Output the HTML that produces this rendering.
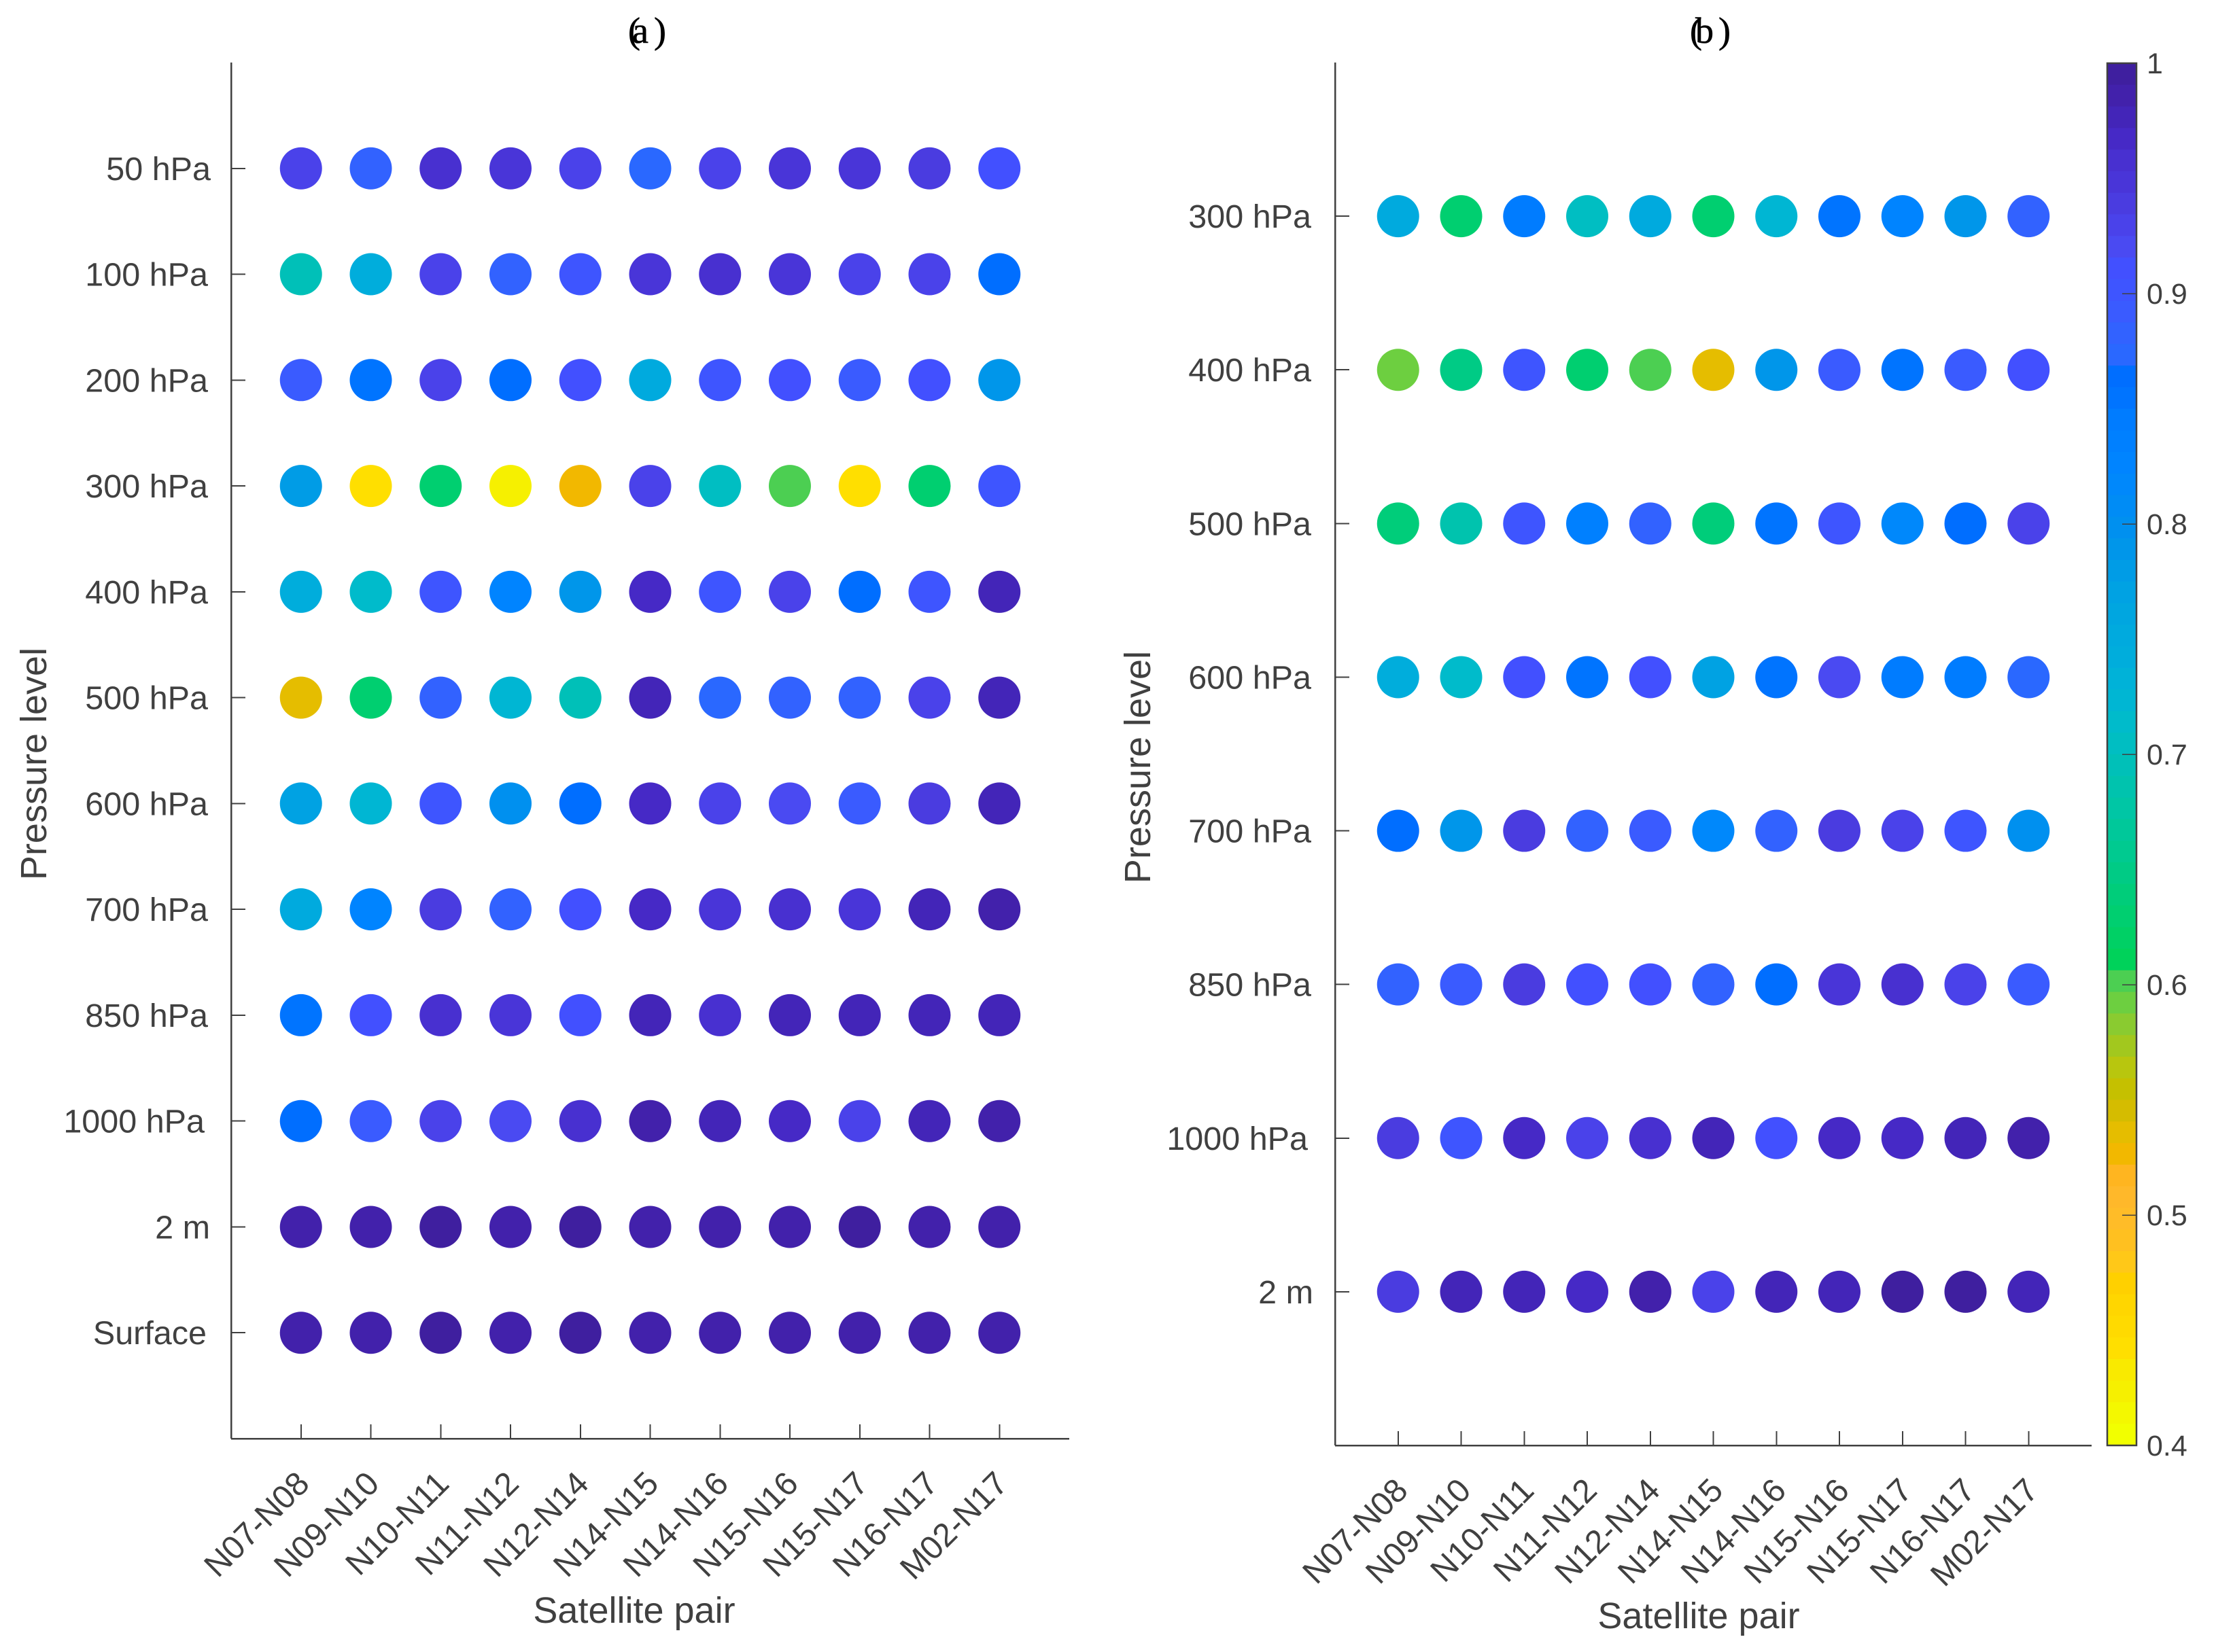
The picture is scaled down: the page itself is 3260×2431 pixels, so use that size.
<!DOCTYPE html>
<html lang="en">
<head>
<meta charset="utf-8">
<title>Pressure level correlation by satellite pair</title>
<style>
html,body{margin:0;padding:0;background:#fff;}
svg{display:block;}
text{font-family:"Liberation Sans",sans-serif;fill:#404040;}
.panel-title{font-family:"Liberation Serif",serif;font-size:54px;fill:#000;stroke:#000;stroke-width:0.6px;}
.axis-title{font-size:54px;}
.tick-label{font-size:48.5px;}
.cbar-label{font-size:43px;}
</style>
</head>
<body>
<svg id="chart" xmlns="http://www.w3.org/2000/svg" width="3260" height="2431" viewBox="0 0 3260 2431">
  <rect x="0" y="0" width="3260" height="2431" fill="#fff"/>
  <text class="panel-title" y="63"><tspan x="924">(</tspan><tspan x="930">a</tspan><tspan x="962">)</tspan></text>
  <text class="panel-title" y="63"><tspan x="2486">(</tspan><tspan x="2494">b</tspan><tspan x="2528">)</tspan></text>
  <text class="axis-title" x="933" y="2388" text-anchor="middle">Satellite pair</text>
  <text class="axis-title" x="2499" y="2396" text-anchor="middle">Satellite pair</text>
  <text class="axis-title" transform="translate(68 1124) rotate(-90)" text-anchor="middle">Pressure level</text>
  <text class="axis-title" transform="translate(1692 1129) rotate(-90)" text-anchor="middle">Pressure level</text>
</svg>
<script>
const satellitePairs = ["N07-N08","N09-N10","N10-N11","N11-N12","N12-N14","N14-N15","N14-N16","N15-N16","N15-N17","N16-N17","M02-N17"];
const levelsA = ["50 hPa","100 hPa","200 hPa","300 hPa","400 hPa","500 hPa","600 hPa","700 hPa","850 hPa","1000 hPa","2 m","Surface"];
const levelsB = ["300 hPa","400 hPa","500 hPa","600 hPa","700 hPa","850 hPa","1000 hPa","2 m"];
const colorbarTicks = [0.4,0.5,0.6,0.7,0.8,0.9,1];

const valuesA50   = [.930,.883,.958,.945,.930,.873,.930,.948,.948,.939,.911];
const valuesA100  = [.695,.745,.930,.880,.902,.945,.955,.948,.925,.930,.864];
const valuesA200  = [.892,.855,.925,.864,.911,.750,.902,.911,.892,.911,.790];
const valuesA300  = [.780,.442,.630,.424,.527,.925,.705,.602,.442,.630,.902];
const valuesA400  = [.742,.715,.902,.830,.790,.967,.902,.925,.864,.905,.977];
const valuesA500  = [.536,.630,.885,.720,.700,.975,.875,.885,.880,.930,.977];
const valuesA600  = [.775,.720,.902,.795,.860,.965,.930,.920,.895,.935,.977];
const valuesA700  = [.755,.825,.935,.880,.910,.970,.950,.960,.950,.975,.986];
const valuesA850  = [.855,.915,.955,.950,.915,.975,.960,.980,.975,.980,.975];
const valuesA1000 = [.860,.895,.930,.920,.960,.986,.980,.965,.930,.977,.986];
const valuesA2m   = [.990,.990,.995,.986,.995,.986,.990,.990,.995,.986,.990];
const valuesASurf = [.986,.990,.995,.990,.995,.986,.990,.986,.990,.986,.986];

const valuesB300  = [.750,.630,.845,.705,.755,.630,.720,.855,.830,.790,.883];
const valuesB400  = [.592,.650,.905,.630,.602,.536,.790,.890,.855,.890,.911];
const valuesB500  = [.635,.690,.902,.840,.885,.635,.855,.905,.820,.864,.925];
const valuesB600  = [.740,.715,.911,.855,.915,.775,.855,.920,.845,.845,.873];
const valuesB700  = [.864,.790,.935,.885,.890,.820,.885,.940,.925,.902,.800];
const valuesB850  = [.880,.895,.940,.915,.915,.885,.860,.950,.960,.930,.895];
const valuesB1000 = [.935,.905,.965,.930,.960,.975,.911,.970,.970,.980,.986];
const valuesB2m   = [.935,.977,.977,.967,.986,.930,.977,.977,.995,.995,.977];

const seriesA = [valuesA50,valuesA100,valuesA200,valuesA300,valuesA400,valuesA500,valuesA600,valuesA700,valuesA850,valuesA1000,valuesA2m,valuesASurf];
const seriesB = [valuesB300,valuesB400,valuesB500,valuesB600,valuesB700,valuesB850,valuesB1000,valuesB2m];

const colormap = [
"#3f1f9f","#4221ab","#4325b8","#4629c6","#4830d0","#4935d8","#4a3ce0","#4a42ea","#4a4af2","#4250ff","#3e55ff","#3a5bff","#3262ff","#2a68ff",
"#006eff","#0074ff","#007cff","#0080ff","#0084ff","#0088fb","#008cf5","#0090ef","#0096ea","#009ce6","#00a2e3","#00a6e0","#00aade","#00addc","#00b2d8","#00b6d3","#00bbcb","#00bec2","#00c0b8","#00c3ae","#00c6a5","#00c89a","#00ca90","#00cb85","#00cd7a","#00cf70","#00d065","#00d25a",
"#4ccf52","#6dcf40","#8acb30","#a2c81e","#b8c60e","#c5c000","#d5bc00","#e5bd00","#f2b800",
"#ffb520","#ffb82a","#ffbc28","#ffc020","#ffc818","#ffd000","#ffd600","#ffda00","#ffdf00","#f9ea00","#f6f000","#f4f800","#f2ff00"];

const svg = document.getElementById('chart');
const NS = 'http://www.w3.org/2000/svg';
const AXIS_COLOR = '#404040';
const C_MIN = 0.4, C_MAX = 1;

function colorFor(v){
  const t = (C_MAX - v) / (C_MAX - C_MIN);
  const i = Math.max(0, Math.min(colormap.length - 1, Math.floor(t * colormap.length)));
  return colormap[i];
}
function make(tag, attrs){
  const el = document.createElementNS(NS, tag);
  for (const k in attrs) el.setAttribute(k, attrs[k]);
  return el;
}
function line(x1,y1,x2,y2,w){
  return make('line',{x1,y1,x2,y2,stroke:AXIS_COLOR,'stroke-width':w,'shape-rendering':'crispEdges'});
}
function nudgeFor(label){
  if (label.length === 6) return 4;
  if (label.length === 8) return -5;
  if (label === '2 m') return 3;
  if (label === 'Surface') return -2;
  return 0;
}

function drawPanel(id, left, right, top, bottom, cats, levels, series, labelRight, xLabelDx, xLabelY){
  const xScale = i => left + (i + 1) * (right - left) / (cats.length + 1);
  const yScale = j => top + (j + 1) * (bottom - top) / (levels.length + 1);

  const yAxis = line(left, top, left, bottom, 2.5);
  
  
  svg.appendChild(yAxis);
  const xAxis = line(left, bottom, right, bottom, 2.5);
  
  
  svg.appendChild(xAxis);

  levels.forEach((lab, j) => {
    const y = yScale(j);
    const t = line(left, y, left + 21, y, 2);
    
    
    svg.appendChild(t);
    const tx = make('text', {class:'tick-label', x: labelRight + nudgeFor(lab), y: y + 17, 'text-anchor':'end'});
    tx.textContent = lab;
    
    
    svg.appendChild(tx);
  });

  cats.forEach((lab, i) => {
    const x = xScale(i);
    const t = line(x, bottom, x, bottom - 21, 2);
    
    
    svg.appendChild(t);
    const px = x + xLabelDx;
    const tx = make('text', {class:'tick-label', x: px, y: xLabelY, 'text-anchor':'end', transform:'rotate(-45 ' + px + ' ' + xLabelY + ')'});
    tx.textContent = lab;
    
    
    svg.appendChild(tx);
  });

  series.forEach((row, j) => {
    row.forEach((v, i) => {
      const c = make('circle', {cx: xScale(i), cy: yScale(j), r: 31, fill: colorFor(v)});
      
      
      c.setAttribute('data-value', v);
      svg.appendChild(c);
    });
  });
}

function drawColorbar(left, right, top, bottom){
  const yScale = v => bottom - (v - C_MIN) / (C_MAX - C_MIN) * (bottom - top);
  const n = colormap.length;
  colormap.forEach((col, i) => {
    const v1 = C_MAX - i * (C_MAX - C_MIN) / n;
    const v2 = C_MAX - (i + 1) * (C_MAX - C_MIN) / n;
    const r = make('rect', {x:left, y:yScale(v1), width:right-left, height:yScale(v2)-yScale(v1)+0.6, fill:col});
    
    
    svg.appendChild(r);
  });
  const frame = make('rect', {x:left, y:top, width:right-left, height:bottom-top, fill:'none', stroke:AXIS_COLOR, 'stroke-width':2.5});
  
  
  svg.appendChild(frame);
  colorbarTicks.forEach(v => {
    const y = yScale(v);
    if (v > C_MIN && v < C_MAX) {
      const t = line(right - 21, y, right, y, 1.5);
      
      
      svg.appendChild(t);
    }
    const tx = make('text', {class:'cbar-label', x: right + 15, y: y + 15});
    tx.textContent = String(v);
    
    
    svg.appendChild(tx);
  });
}

drawPanel('panel-a', 340, 1573, 92, 2117, satellitePairs, levelsA, seriesA, 306, 15, 2186);
drawPanel('panel-b', 1964, 3077, 92, 2127, satellitePairs, levelsB, seriesB, 1929, 17, 2196);
drawColorbar(3100, 3143, 93, 2127);
</script>
</body>
</html>
